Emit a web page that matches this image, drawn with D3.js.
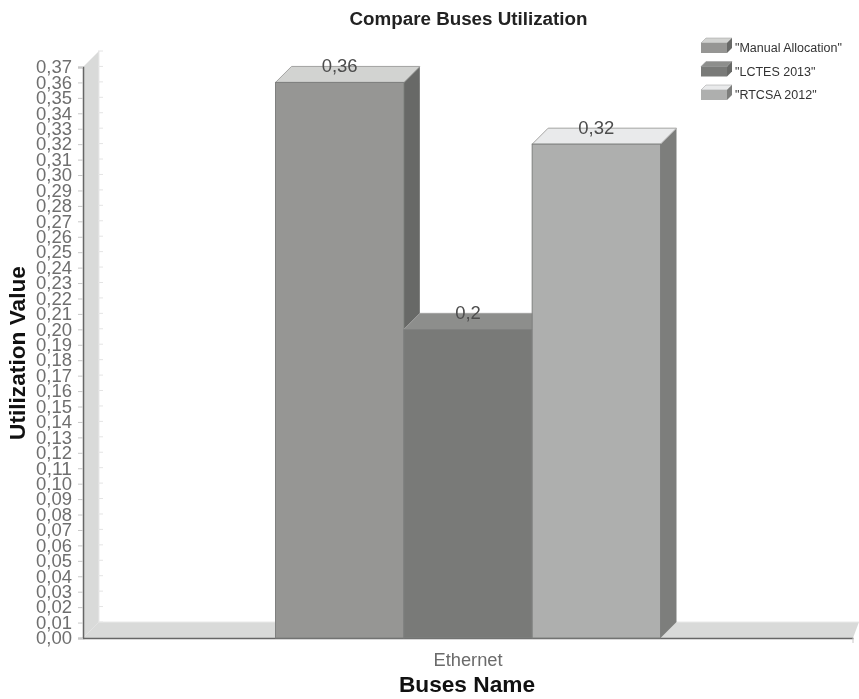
<!DOCTYPE html>
<html>
<head>
<meta charset="utf-8">
<script src="https://cdn.jsdelivr.net/npm/d3@7"></script>
<style>
html, body { margin: 0; padding: 0; background: #fff; overflow: hidden; }
svg { display: block; filter: blur(0.45px); }
text { font-family: "Liberation Sans", Arial, sans-serif; }
</style>
</head>
<body>
<div id="chart"></div>
<script>
var categories = ["Ethernet"];
var seriesNames = ["\"Manual Allocation\"", "\"LCTES 2013\"", "\"RTCSA 2012\""];
var manualValues = [0.36];
var lctesValues = [0.2];
var rtcsaValues = [0.32];
var valueLabels = ["0,36", "0,2", "0,32"];
var tickValues = d3.range(0, 38);

var seriesValues = [manualValues, lctesValues, rtcsaValues];
var frontColors = ["#969694", "#797a78", "#aeafae"];
var topColors = ["#d2d3d1", "#8d8e8c", "#e9eaeb"];
var sideColors = ["#686967", "#686967", "#7d7e7c"];
var depth = 16;

var svg = d3.select("#chart").append("svg")
	.attr("width", 859)
	.attr("height", 699);

var x = d3.scaleBand().domain(categories).range([83, 853]);
var xSeries = d3.scaleBand().domain(seriesNames)
	.range([x.bandwidth() * 0.25, x.bandwidth() * 0.75]);
var y = d3.scaleLinear().domain([0, 0.37]).range([638, 67]);

function quad(points, fill, stroke){
	return svg.append("polygon")
		.attr("points", points.map(function(p){ return p.join(","); }).join(" "))
		.attr("fill", fill)
		.attr("stroke", stroke || "none")
		.attr("stroke-width", stroke ? 1 : 0);
}

// back walls
var left = x.range()[0], right = x.range()[1], base = y(0), top_ = y(0.37);
quad([[left, top_], [left + depth, top_ - depth], [left + depth, base - depth], [left, base]], "#d9dad9");
quad([[left, base], [left + depth, base - depth], [right + 6, base - depth], [right, base]], "#d9dad9");
svg.append("line")
	.attr("x1", left + depth).attr("x2", right + 6)
	.attr("y1", base - depth).attr("y2", base - depth)
	.attr("stroke", "#e9e9e9");
svg.append("line")
	.attr("x1", left + depth).attr("x2", left + depth)
	.attr("y1", top_ - depth).attr("y2", base - depth)
	.attr("stroke", "#e9e9e9");

// small marks on the wall
svg.selectAll(".wall-tick").data(tickValues).enter().append("line")
	.attr("class", "wall-tick")
	.attr("x1", left + depth - 1).attr("x2", left + depth + 4)
	.attr("y1", function(d){ return y(d / 100) - depth; })
	.attr("y2", function(d){ return y(d / 100) - depth; })
	.attr("stroke", "#e4e4e4");

// y axis
var yAxis = d3.axisLeft(y)
	.tickValues(tickValues.map(function(d){ return d / 100; }))
	.tickSize(5)
	.tickPadding(6)
	.tickFormat(function(d){ return d3.format(".2f")(d).replace(".", ","); });
var yG = svg.append("g").attr("transform", "translate(" + left + ",0)").call(yAxis);
yG.select(".domain").attr("stroke", "#666").attr("stroke-width", 1.5);
yG.selectAll(".tick line").attr("stroke", "#c8c8c8");
yG.selectAll(".tick text")
	.attr("fill", "#6f6f6f")
	.attr("font-size", 18)
	.attr("textLength", 36)
	.attr("lengthAdjust", "spacingAndGlyphs");

// x axis
var xAxis = d3.axisBottom(x).tickSize(0).tickPadding(15);
var xG = svg.append("g").attr("transform", "translate(0," + base + ")").call(xAxis);
xG.select(".domain").attr("stroke", "#666").attr("stroke-width", 1.5);
xG.selectAll(".tick text").attr("fill", "#6b6b6b").attr("font-size", 18.3);
svg.append("line")
	.attr("x1", right).attr("x2", right)
	.attr("y1", base).attr("y2", base + 5)
	.attr("stroke", "#c8c8c8");

// bars
seriesNames.forEach(function(name, i){
	var x0 = x(categories[0]) + xSeries(name);
	var x1 = x0 + xSeries.bandwidth();
	var yTop = y(seriesValues[i][0]);
	quad([[x1, yTop], [x1 + depth, yTop - depth], [x1 + depth, base - depth], [x1, base]], sideColors[i]);
	quad([[x0, yTop], [x0 + depth, yTop - depth], [x1 + depth, yTop - depth], [x1, yTop]], topColors[i], "#a3a3a2");
	svg.append("rect")
		.attr("x", x0).attr("y", yTop)
		.attr("width", xSeries.bandwidth())
		.attr("height", base - yTop)
		.attr("fill", frontColors[i])
		.attr("stroke", "#7f807f");
	svg.append("text")
		.attr("x", (x0 + x1) / 2)
		.attr("y", yTop - 10)
		.attr("text-anchor", "middle")
		.attr("fill", "#4d4d4d")
		.attr("font-size", 18.5)
		.text(valueLabels[i]);
});

// titles
svg.append("text")
	.attr("x", 468.5).attr("y", 25)
	.attr("text-anchor", "middle")
	.attr("font-weight", "bold").attr("font-size", 18.8)
	.attr("fill", "#222")
	.text("Compare Buses Utilization");
svg.append("text")
	.attr("x", 467).attr("y", 692)
	.attr("text-anchor", "middle")
	.attr("font-weight", "bold").attr("font-size", 22.7)
	.attr("fill", "#111")
	.text("Buses Name");
svg.append("text")
	.attr("transform", "translate(25,353) rotate(-90)")
	.attr("text-anchor", "middle")
	.attr("font-weight", "bold").attr("font-size", 22.7)
	.attr("fill", "#111")
	.text("Utilization Value");

// legend
var legend = svg.selectAll(".legend").data(seriesNames).enter().append("g")
	.attr("class", "legend")
	.attr("transform", function(d, i){ return "translate(701," + (38 + i * 23.5) + ")"; });
legend.each(function(d, i){
	var g = d3.select(this);
	g.append("polygon").attr("points", "0,5 5,0 31,0 26,5").attr("fill", topColors[i]).attr("stroke", "#999").attr("stroke-width", 0.5);
	g.append("polygon").attr("points", "26,5 31,0 31,10 26,15").attr("fill", sideColors[i]);
	g.append("rect").attr("y", 5).attr("width", 26).attr("height", 10).attr("fill", frontColors[i]);
});
legend.append("text")
	.attr("x", 34).attr("y", 14)
	.attr("fill", "#333")
	.attr("font-size", 12.5)
	.text(function(d){ return d; });
</script>
</body>
</html>
